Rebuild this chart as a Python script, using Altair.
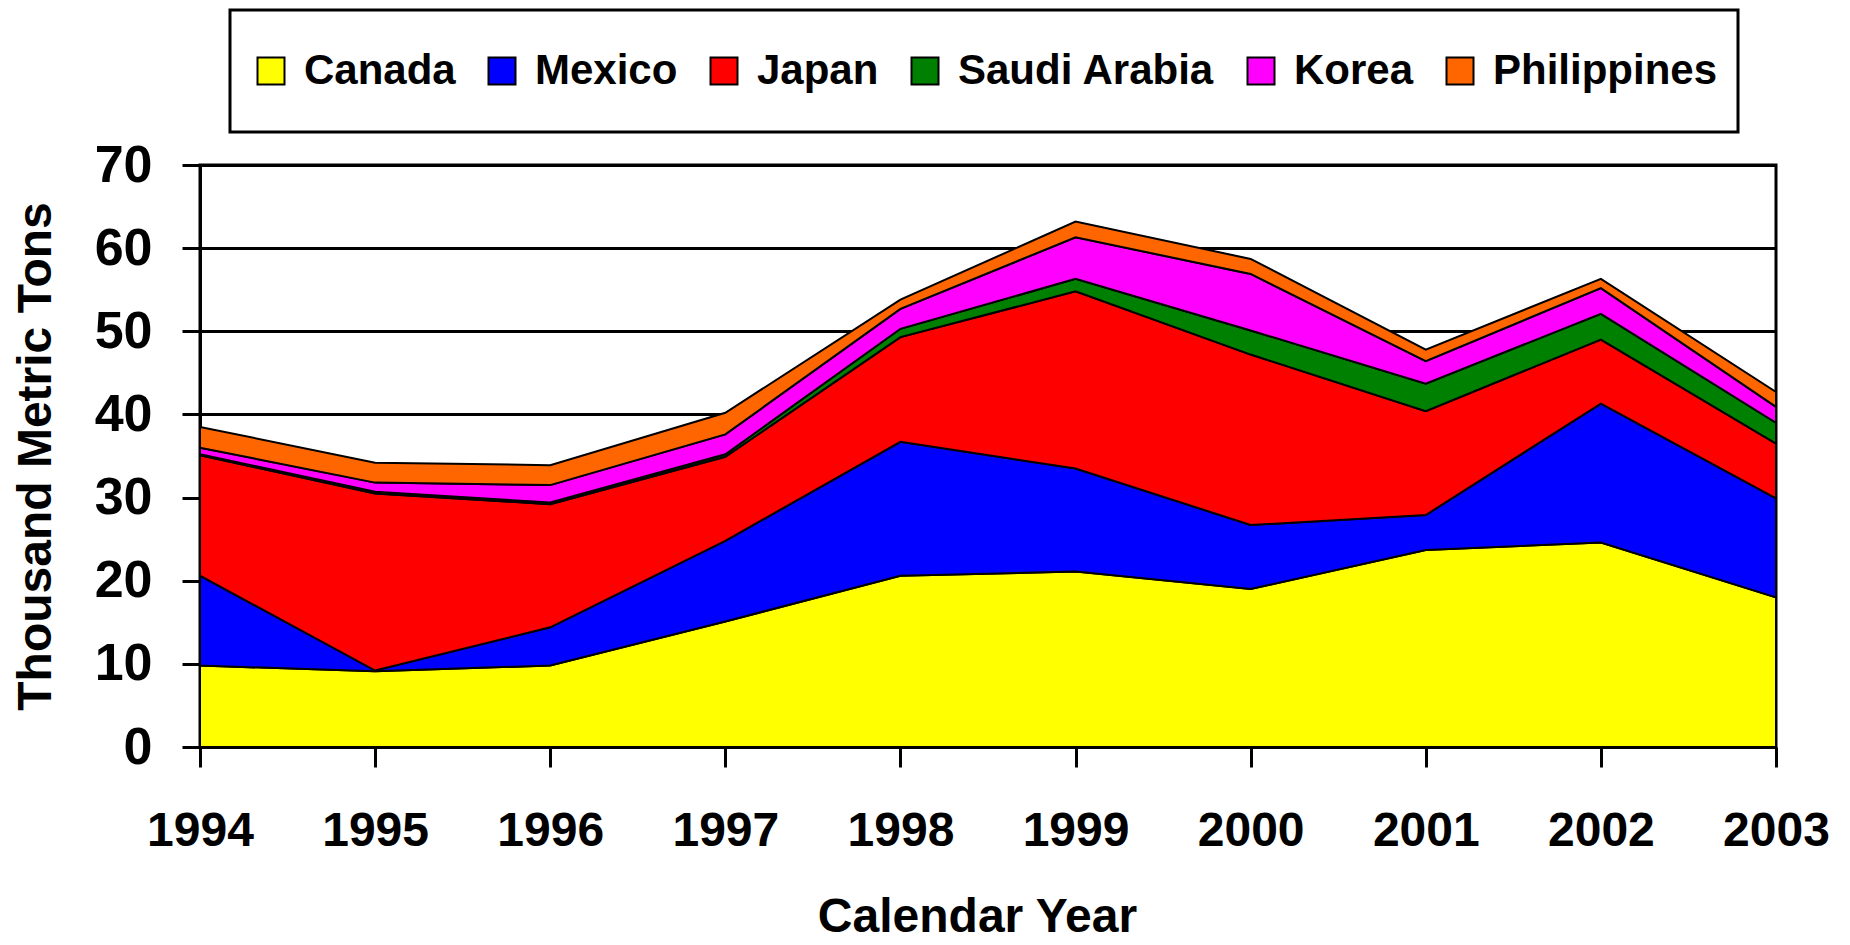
import altair as alt
import pandas as pd

years = [1994, 1995, 1996, 1997, 1998, 1999, 2000, 2001, 2002, 2003]
countries = ["Canada", "Mexico", "Japan", "Saudi Arabia", "Korea", "Philippines"]
colors = ["#FFFF00", "#0000FF", "#FF0000", "#008000", "#FF00FF", "#FF6600"]

canada = [9.8, 9.1, 9.8, 15.1, 20.6, 21.1, 19.0, 23.7, 24.6, 18.0]
mexico = [10.8, 0.1, 4.6, 9.7, 16.1, 12.4, 7.7, 4.2, 16.7, 11.9]
japan = [14.5, 21.3, 14.8, 10.1, 12.6, 21.3, 20.5, 12.5, 7.7, 6.6]
saudi = [0.1, 0.2, 0.2, 0.3, 1.0, 1.5, 2.9, 3.3, 3.1, 2.5]
korea = [0.8, 1.1, 2.1, 2.4, 2.4, 5.0, 6.8, 2.7, 3.1, 1.9]
philippines = [2.5, 2.4, 2.4, 2.6, 1.1, 1.9, 1.8, 1.4, 1.1, 1.8]

y_ticks = [0, 10, 20, 30, 40, 50, 60, 70]

series = [canada, mexico, japan, saudi, korea, philippines]
rows = []
for i, (name, vals) in enumerate(zip(countries, series)):
    for yr, v in zip(years, vals):
        rows.append({"year": yr, "country": name, "value": v, "order": i})
df = pd.DataFrame(rows)

FONT = "Liberation Sans"

chart = alt.Chart(df).mark_area(
    stroke="black", strokeWidth=2, opacity=1, strokeJoin="miter"
).encode(
    x=alt.X(
        "year:Q",
        scale=alt.Scale(domain=[1994, 2003], nice=False, zero=False),
        axis=alt.Axis(
            values=years, format="d", title="Calendar Year", grid=False,
            tickSize=20, labelPadding=40, titlePadding=38, titleX=777,
        ),
    ),
    y=alt.Y(
        "value:Q",
        stack="zero",
        scale=alt.Scale(domain=[0, 70], nice=False),
        axis=alt.Axis(
            values=y_ticks, title="Thousand Metric Tons", grid=True,
            tickSize=18, labelPadding=30, titlePadding=34, labelFontSize=52,
        ),
    ),
    color=alt.Color(
        "country:N",
        scale=alt.Scale(domain=countries, range=colors),
        legend=alt.Legend(
            orient="none", legendX=30, legendY=-155, direction="horizontal",
            columns=6, title=None, symbolType="square", symbolSize=729,
            symbolStrokeColor="black", symbolStrokeWidth=2, symbolOpacity=1,
            labelFontSize=42, labelFont=FONT, labelFontWeight="bold",
            labelColor="black", labelOffset=12, labelLimit=400,
            columnPadding=25, padding=20, strokeColor="black",
            fillColor="white", clipHeight=82,
        ),
    ),
    order=alt.Order("order:Q", sort="ascending"),
).properties(
    width=1576, height=582,
    autosize=alt.AutoSizeParams(type="none"),
    padding={"left": 192, "top": 157, "right": 60, "bottom": 196},
).configure_view(
    stroke="black", strokeWidth=3
).configure_axis(
    domainColor="black", domainWidth=3, tickColor="black", tickWidth=3,
    gridColor="black", gridWidth=3, gridOpacity=1,
    labelFont=FONT, labelFontSize=48, labelFontWeight="bold", labelColor="black",
    titleFont=FONT, titleFontSize=48, titleFontWeight="bold", titleColor="black",
    labelFlush=False, labelOverlap=False,
).configure_legend(
    strokeWidth=3
)

chart.save("out.html", embed_options={"renderer": "svg", "actions": False})
